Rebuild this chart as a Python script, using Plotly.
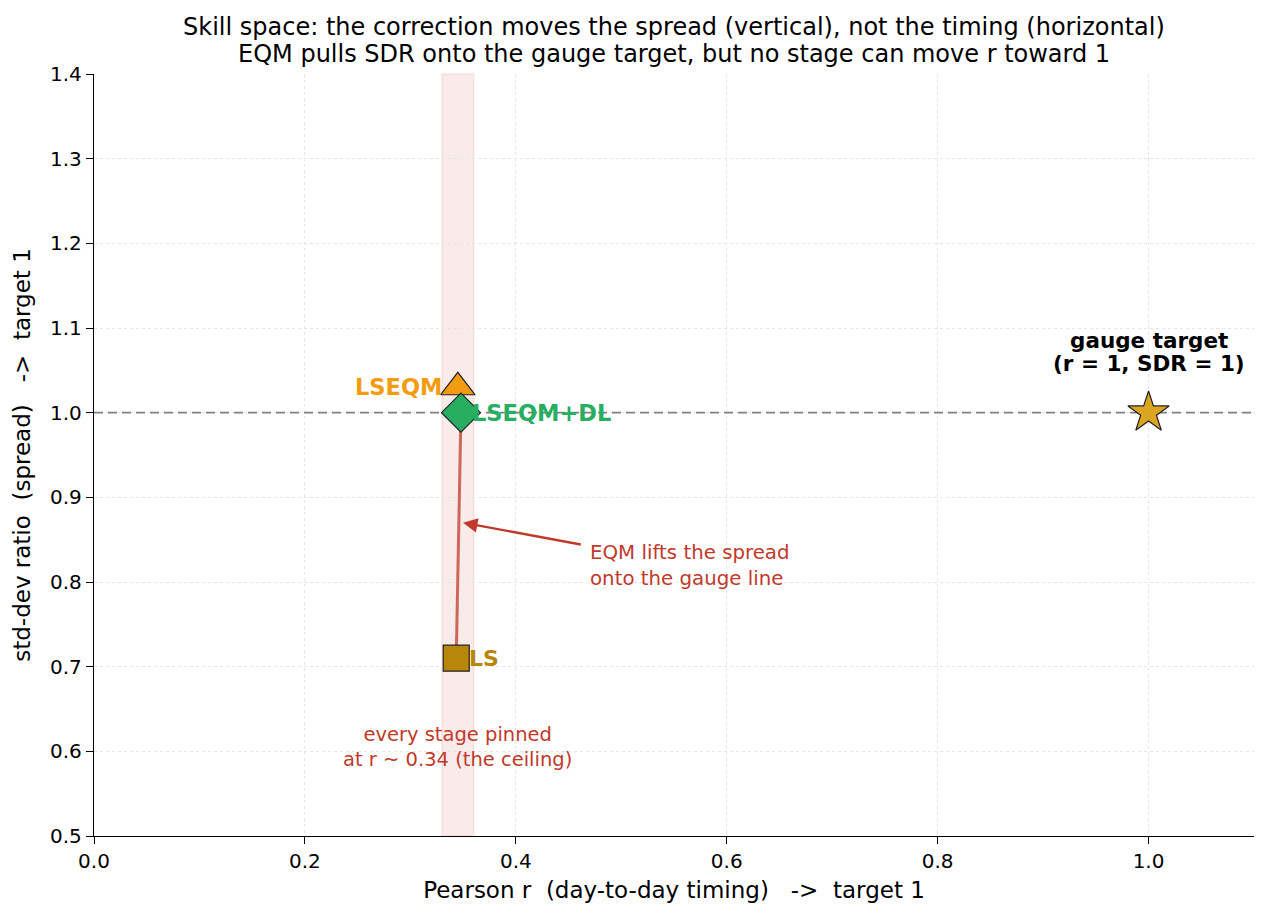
import plotly.graph_objects as go

stages = ["LS", "LSEQM", "LSEQM+DL"]
pearson_r = [0.3435, 0.345, 0.348]
sdr = [0.71, 1.03, 1.0]
colors = ["#b8860b", "#f39c12", "#27ae60"]
symbols = ["square", "triangle-up", "diamond"]
sizes = [26, 30, 30]
target_r, target_sdr = 1.0, 1.0
band = [0.33, 0.36]
x_range = [0, 1.1]
y_range = [0.5, 1.4]
title_lines = ["Skill space: the correction moves the spread (vertical), not the timing (horizontal)",
               "EQM pulls SDR onto the gauge target, but no stage can move r toward 1"]
target_lines = ["gauge target", "(r = 1, SDR = 1)"]

F = "DejaVu Sans"
NB = "\u00a0"
PLOT_H = 917 - 74 - 81
fig = go.Figure()

fig.add_shape(type="rect", xref="x", yref="paper", x0=band[0], x1=band[1], y0=0, y1=1,
              fillcolor="rgba(192,57,43,0.1)", line=dict(color="rgba(192,57,43,0.1)", width=1.5), layer="below")

# reference line SDR = 1
fig.add_trace(go.Scatter(x=x_range, y=[target_sdr, target_sdr], mode="lines",
                         line=dict(color="#808080", width=1.8, dash="9px,5px"), hoverinfo="skip", showlegend=False))

# path LS -> LSEQM+DL
fig.add_trace(go.Scatter(x=[pearson_r[0], pearson_r[2]], y=[sdr[0], sdr[2]], mode="lines",
                         line=dict(color="rgba(192,57,43,0.75)", width=3), hoverinfo="skip", showlegend=False))

for s, x, y, c, m, sz in zip(stages, pearson_r, sdr, colors, symbols, sizes):
    fig.add_trace(go.Scatter(x=[x], y=[y], mode="markers", name=s,
                             marker=dict(color=c, symbol=m, size=sz, line=dict(color="#222222", width=1.2)),
                             showlegend=False))

fig.add_trace(go.Scatter(x=[target_r], y=[target_sdr], mode="markers",
                         marker=dict(color="#daa520", symbol="star", size=31, line=dict(color="#222222", width=1.2)),
                         showlegend=False))

ann = []
ann.append(dict(x=pearson_r[0] + 0.010, y=sdr[0], text="<b>LS</b>", showarrow=False, xanchor="left",
                yanchor="middle", font=dict(family=F, size=22, color=colors[0])))
ann.append(dict(x=pearson_r[1] - 0.013, y=sdr[1], text="<b>LSEQM</b>", showarrow=False, xanchor="right",
                yanchor="middle", font=dict(family=F, size=22.5, color=colors[1])))
ann.append(dict(x=pearson_r[2] + 0.009, y=sdr[2], text="<b>LSEQM+DL</b>", showarrow=False, xanchor="left",
                yanchor="middle", font=dict(family=F, size=22.5, color=colors[2])))
for i, (line, yv) in enumerate(zip(target_lines, [1.085, 1.058])):
    ann.append(dict(x=target_r, y=yv, text=f"<b>{line}</b>", showarrow=False,
                    xanchor="center", yanchor="middle", font=dict(family=F, size=21.5, color="black")))
ann.append(dict(x=0.35, y=0.87, ax=0.463, ay=0.844, axref="x", ayref="y", text="", showarrow=True,
                arrowhead=2, arrowsize=1.2, arrowwidth=2.4, arrowcolor="#c0392b"))
ann.append(dict(x=0.468, y=0.82, text="EQM lifts the spread<br>onto the gauge line", showarrow=False,
                xanchor="left", yanchor="middle", align="left", font=dict(family=F, size=19.8, color="#c0392b")))
ann.append(dict(x=0.345, y=0.605, text="every stage pinned<br>at r ~ 0.34 (the ceiling)", showarrow=False,
                xanchor="center", yanchor="middle", align="center", font=dict(family=F, size=19.5, color="#c0392b")))
for line, py in zip(title_lines, [27, 54]):
    ann.append(dict(x=0.5, y=1 + (74 - py) / PLOT_H, xref="paper", yref="paper", showarrow=False,
                    text=line, xanchor="center", yanchor="middle", font=dict(family=F, size=24, color="black")))

axis_common = dict(showline=True, linecolor="black", linewidth=1.3, ticks="outside", ticklen=7,
                   tickwidth=1.3, tickcolor="black", showgrid=True, gridcolor="#e6e6e6", griddash="dot",
                   gridwidth=1.2, zeroline=False, tickfont=dict(family=F, size=20, color="black"), mirror=False)

fig.update_layout(
    width=1268, height=917,
    margin=dict(l=94, r=14, t=74, b=81),
    paper_bgcolor="white", plot_bgcolor="white",
    xaxis=dict(range=x_range, dtick=0.2, tick0=0, tickformat=".1f",
               title=dict(text=f"Pearson r{NB}{NB}(day-to-day timing){NB}{NB}{NB}->{NB}{NB}target 1",
                          font=dict(family=F, size=23, color="black"), standoff=9), **axis_common),
    yaxis=dict(range=y_range, dtick=0.1, tick0=0.5, tickformat=".1f",
               title=dict(text=f"std-dev ratio{NB}{NB}(spread){NB}{NB}{NB}->{NB}{NB}target 1",
                          font=dict(family=F, size=23, color="black"), standoff=12), **axis_common),
    annotations=ann,
)

fig.write_html("out.html")
